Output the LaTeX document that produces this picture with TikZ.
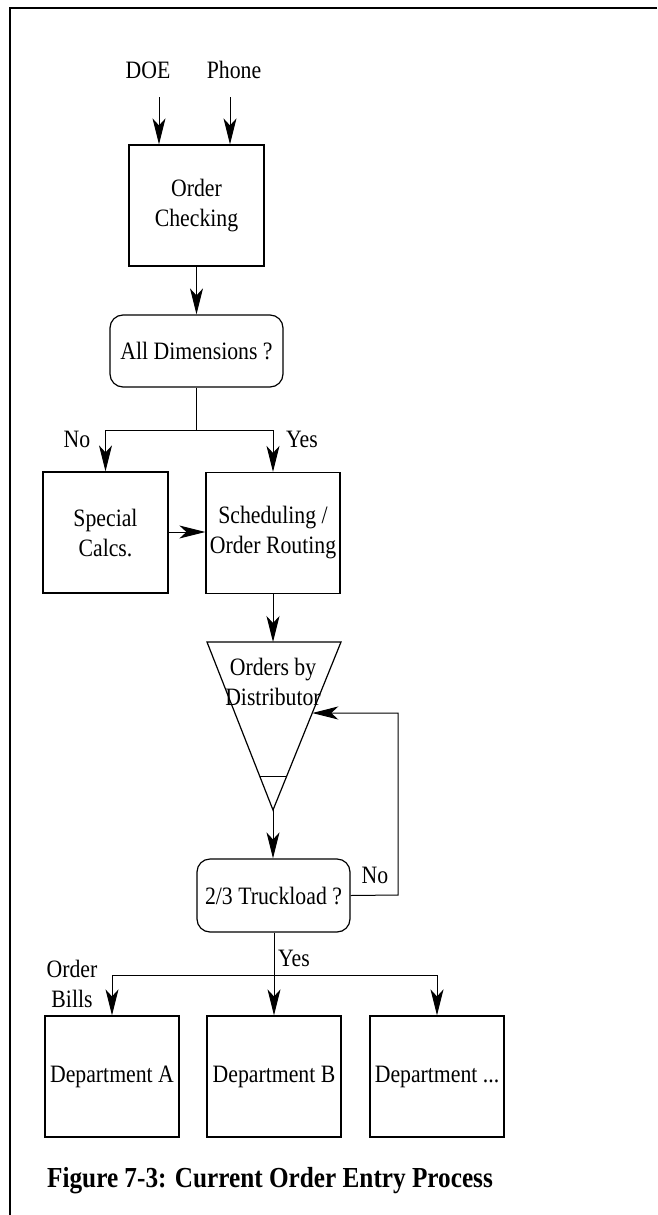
\documentclass[tikz,border=0pt]{standalone}
\usepackage{fontspec}
\setmainfont[FakeStretch=0.87]{Liberation Serif}
\usetikzlibrary{arrows.meta,calc}
\begin{document}
\begin{tikzpicture}[x=1pt,y=-1pt,
  txt/.style={font=\fontsize{25}{30}\selectfont, align=center, inner sep=0pt},
  boxnode/.style={draw, line width=1.2pt, txt, minimum width=#1, minimum height=121pt},
  roundnode/.style={draw, line width=1.2pt, rounded corners=13pt, txt, minimum width=#1, minimum height=72pt},
  arr/.style={line width=1pt, -{Stealth[length=26pt,width=13pt,inset=7pt]}},
  ln/.style={line width=1pt}]
\useasboundingbox (0,0) rectangle (657,1215);
% frame
\draw[line width=1.4pt] (657,8) -- (10,8) -- (10,1215);
% inputs
\node[txt] (doe) at (148,70) {DOE};
\node[txt] (phone) at (234,70) {Phone};
\coordinate (doeS) at (159,97);
\coordinate (phoneS) at (230,97);
\node[boxnode=135pt] (oc) at (196.5,205.5) {Order\\Checking};
\draw[arr] (doeS) -- (oc.north -| doeS);
\draw[arr] (phoneS) -- (oc.north -| phoneS);
% all dimensions
\node[roundnode=173pt] (ad) at (196.5,351) {All Dimensions ?};
\draw[arr] (oc.south) -- (ad.north);
\node[boxnode=125pt] (sc) at (105.5,532.5) {Special\\Calcs.};
\node[boxnode=134pt] (sr) at (273,533) {Scheduling /\\Order Routing};
\coordinate (split1) at (196.5,430);
\draw[ln] (ad.south) -- (split1);
\draw[arr] (split1) -| (sc.north);
\draw[arr] (split1) -| (sr.north);
\node[txt] (no1) at (77,439) {No};
\node[txt] (yes1) at (302,439) {Yes};
\draw[arr] (sc.east |- 0,532) -- (sr.west |- 0,532);
% triangle
\coordinate (tl) at (207,642);
\coordinate (tr) at (341,642);
\coordinate (tb) at (273,810);
\coordinate (ttop) at (273,642);
\draw[line width=1.2pt] (tl) -- (tr) -- (tb) -- cycle;
\draw[line width=1.2pt] ($(tl)!0.802!(tb)$) -- ($(tr)!0.802!(tb)$);
\node[txt] (obd) at (273,682) {Orders by\\Distributor};
\draw[arr] (sr.south) -- (ttop);
% truckload
\node[roundnode=153pt, minimum height=73pt] (tk) at (273.5,895.5) {2/3 Truckload ?};
\draw[arr] (tb) -- (tk.north -| tb);
\coordinate (fbA) at (398,895);
\coordinate (fbB) at (398,713);
\coordinate (tedge) at ($(tr)!0.4226!(tb)$);
\draw[arr] (tk.east) -- (fbA) -- (fbB) -- (tedge);
\node[txt] (no2) at (375,875) {No};
% departments
\node[boxnode=134pt] (da) at (112,1076.5) {Department A};
\node[boxnode=134pt] (db) at (274,1076.5) {Department B};
\node[boxnode=134pt] (dc) at (437,1076.5) {Department ...};
\coordinate (split2) at (274,975);
\draw[ln] (tk.south -| split2) -- (split2);
\draw[arr] (split2) -| (da.north);
\draw[arr] (split2) -- (db.north);
\draw[arr] (split2) -| (dc.north);
\node[txt, anchor=west] (yes2) at (278,958) {Yes};
\node[txt] (ob) at (72,983.5) {Order\\Bills};
% caption
\node[font=\fontsize{29}{30}\selectfont\bfseries, inner sep=0pt] (cap) at (270,1181) {Figure 7-3: Current Order Entry Process};
\end{tikzpicture}
\end{document}
